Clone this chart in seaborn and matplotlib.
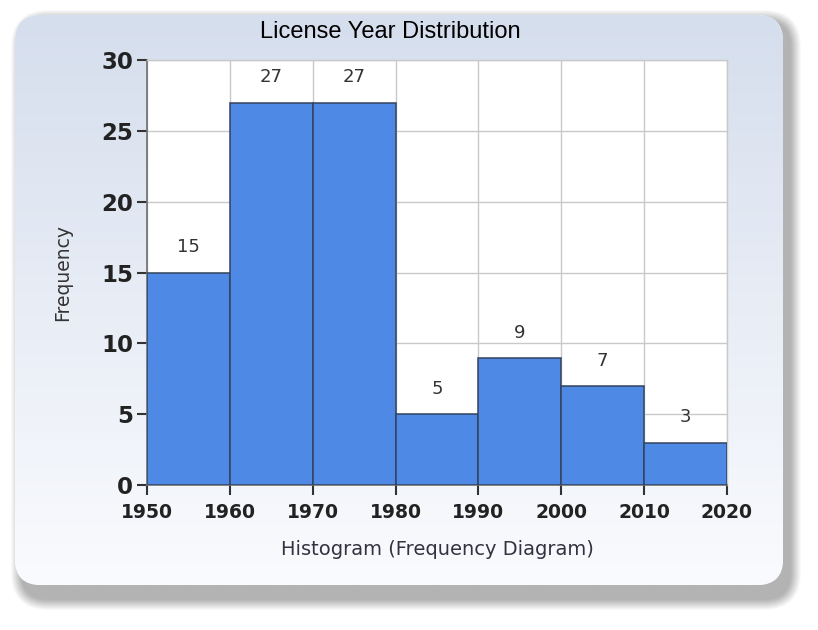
import numpy as np
import pandas as pd
import matplotlib
matplotlib.use("Agg")
import matplotlib.pyplot as plt
from matplotlib.patches import FancyBboxPatch
import seaborn as sns

# histogram data
bin_edges = [1950, 1960, 1970, 1980, 1990, 2000, 2010, 2020]
bin_counts = [15, 27, 27, 5, 9, 7, 3]
y_ticks = [0, 5, 10, 15, 20, 25, 30]

bin_mids = [(a + b) / 2 for a, b in zip(bin_edges[:-1], bin_edges[1:])]
df = pd.DataFrame({"year": bin_mids, "count": bin_counts})

sns.set_theme(style="white")
plt.rcParams['font.family'] = ['DejaVu Sans']

W, H = 818, 630
fig = plt.figure(figsize=(W / 100, H / 100), dpi=100)
fig.patch.set_facecolor("white")

# background panel with soft shadow and gradient
bg = fig.add_axes([0, 0, 1, 1])
bg.set_xlim(0, W)
bg.set_ylim(H, 0)
bg.axis("off")

px0, py0, px1, py1 = 15, 15, 783, 585
n_layers = 20
for i in range(n_layers):
    grow = 22 - 22 * i / n_layers
    sh = FancyBboxPatch((px0 + 7 - grow / 2, py0 + 6 - grow / 2),
                        px1 - px0 + grow, py1 - py0 + 8 + grow,
                        boxstyle="round,pad=0,rounding_size=%f" % (26 + grow / 2),
                        fc="black", ec="none", alpha=0.014)
    bg.add_patch(sh)

panel = FancyBboxPatch((px0, py0), px1 - px0, py1 - py0,
                       boxstyle="round,pad=0,rounding_size=26",
                       fc="white", ec="none", zorder=1)
bg.add_patch(panel)
grad = np.linspace(0, 1, 256).reshape(-1, 1)
top_c = np.array([213, 222, 237]) / 255
bot_c = np.array([250, 251, 254]) / 255
img = top_c[None, None, :] * (1 - grad[..., None]) + bot_c[None, None, :] * grad[..., None]
im = bg.imshow(img, extent=(px0, px1, py1, py0), aspect="auto", zorder=2)
im.set_clip_path(panel)

# main histogram axes
ax = fig.add_axes([147 / W, 1 - 485 / H, (727 - 147) / W, (485 - 60) / H])
ax.set_facecolor("white")
sns.histplot(data=df, x="year", weights="count", bins=bin_edges,
             color="#4F89E6", alpha=1, edgecolor="#34435C", linewidth=1.1,
             ax=ax, zorder=3)

ax.set_xlim(1950, 2020)
ax.set_ylim(0, 30)
ax.set_xticks(bin_edges)
ax.set_yticks(y_ticks)
ax.grid(True, color="#C9C9C9", linewidth=1.0, zorder=0)
ax.set_axisbelow(True)
for s in ["top", "right"]:
    ax.spines[s].set_color("#C9C9C9")
    ax.spines[s].set_linewidth(1.0)
for s in ["left", "bottom"]:
    ax.spines[s].set_color("#6E6E6E")
    ax.spines[s].set_linewidth(1.2)

ax.tick_params(axis="y", direction="out", length=7, width=1.5, color="#333333",
               labelsize=16.5, pad=3, left=True)
ax.tick_params(axis="x", direction="out", length=7, width=1.5, color="#333333",
               labelsize=13.5, pad=6, bottom=True)
for lab in ax.get_yticklabels():
    lab.set_fontweight("bold")
    lab.set_color("#222222")
for lab in ax.get_xticklabels():
    lab.set_fontweight("bold")
    lab.set_color("#222222")

ax.set_xlabel("Histogram (Frequency Diagram)", fontsize=14, color="#333340",
              labelpad=13)
ax.set_ylabel("Frequency", fontsize=13.5, color="#333333", labelpad=21)

# value labels above the bars
for x, c in zip(bin_mids, bin_counts):
    ax.annotate(str(c), xy=(x, c), xytext=(0, 18), textcoords="offset points",
                ha="center", va="center", fontsize=13, color="#333333")

fig.text(390 / W, 1 - 32 / H, "License Year Distribution", ha="center", va="center",
         fontsize=17, color="black", family=["Liberation Sans", "DejaVu Sans"])

fig.savefig("out.png", dpi=100)
